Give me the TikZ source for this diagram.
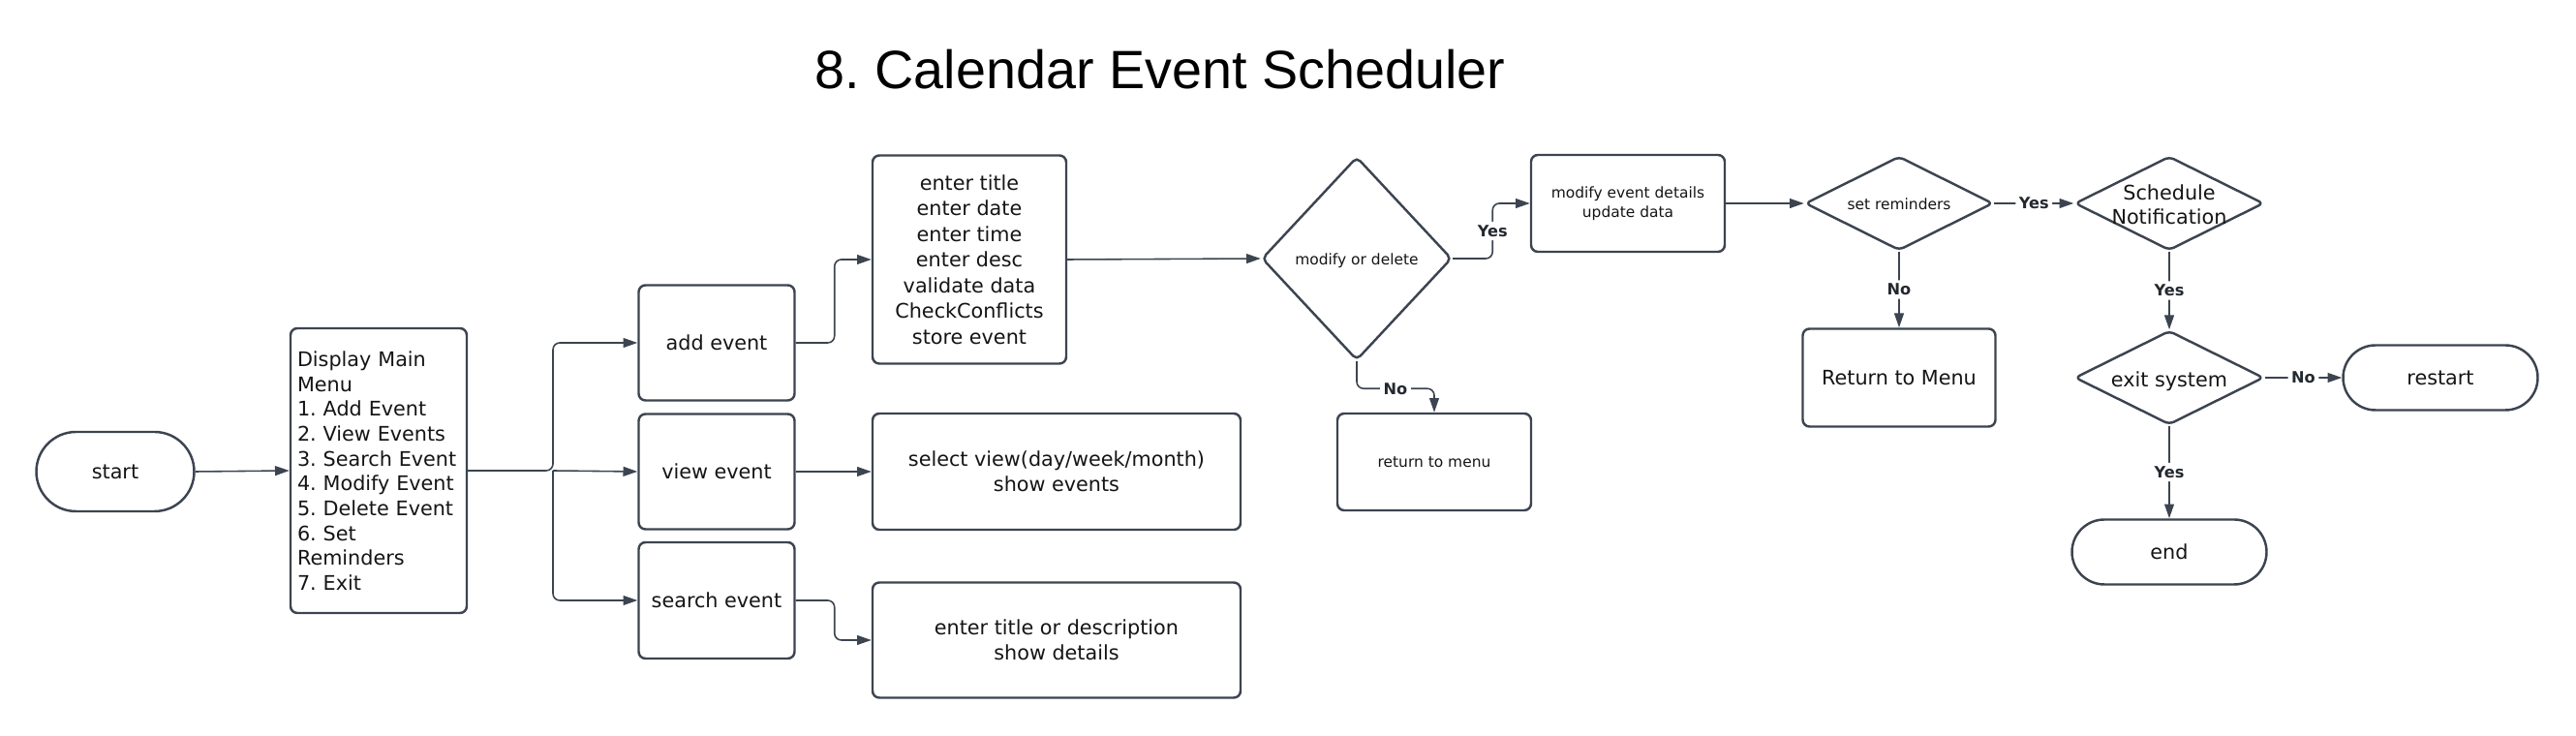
\documentclass[tikz,border=0pt]{standalone}
\usepackage{fontspec}
\setmainfont{DejaVu Sans}
\newfontfamily\titlefont{Liberation Sans}
\usetikzlibrary{shapes.geometric,shapes.misc,arrows.meta}
\definecolor{edge}{HTML}{3C4450}
\definecolor{ink}{HTML}{151515}
\frenchspacing
% text of a decision, kept from sizing the diamond
\newcommand{\dtext}[1]{\smash{\raisebox{-0.46em}{\makebox[0pt]{\begin{tabular}{@{}c@{}}#1\end{tabular}}}}}

\begin{document}
\begin{tikzpicture}[
	b/.style = {rectangle, draw=edge, line width=0.7pt, rounded corners=2pt, text=ink, align=center, inner sep=0pt, font=\fontsize{5.9}{7.55}\selectfont},
	sb/.style = {b, font=\fontsize{4.4}{5.7}\selectfont},
	term/.style = {rounded rectangle, draw=edge, line width=0.7pt, text=ink, inner sep=0pt, minimum width=2.01cm, minimum height=0.67cm, font=\fontsize{5.9}{7.55}\selectfont},
	d/.style = {diamond, draw=edge, line width=0.7pt, rounded corners=1.5pt, text=ink, inner sep=0pt, minimum width=1.95cm, minimum height=0.97cm, font=\fontsize{5.9}{7.1}\selectfont},
	r/.style = {-{Triangle[length=4.2pt,width=2.8pt]}, draw=edge, line width=0.45pt, rounded corners=2pt},
	lb/.style = {fill=white, text=edge!60!black, inner sep=1pt, font=\bfseries\fontsize{4.6}{5}\selectfont}
	]
	\useasboundingbox (0,0) rectangle (26.6,-7.6);
	
	%Title
	\node[anchor=base, font=\titlefont\fontsize{15.85}{18}\selectfont]	(title)	at	(11.98, -0.92)	{8. Calendar Event Scheduler};
	
	%Nodes
	\node[term, minimum width=1.63cm, minimum height=0.82cm]	(start)	at	(1.19, -4.87)	{start};
	\node[b, minimum width=1.82cm, minimum height=2.94cm, text width=1.68cm, align=left, font=\fontsize{5.9}{7.3}\selectfont]	(menu)	at	(3.91, -4.86)	{Display Main\\Menu\\1. Add Event\\2. View Events\\3. Search Event\\4. Modify Event\\5. Delete Event\\6. Set\\Reminders\\7. Exit};
	
	\node[b, minimum width=1.61cm, minimum height=1.19cm]	(add)	at	(7.40, -3.54)	{add event};
	\node[b, minimum width=1.61cm, minimum height=1.19cm]	(view)	at	(7.40, -4.87)	{view event};
	\node[b, minimum width=1.61cm, minimum height=1.20cm]	(search)	at	(7.40, -6.20)	{search event};
	
	\node[b, minimum width=2.00cm, minimum height=2.15cm]	(entry)	at	(10.01, -2.68)	{enter title\\enter date\\enter time\\enter desc\\validate data\\CheckConflicts\\store event};
	\node[b, minimum width=3.80cm, minimum height=1.20cm]	(show)	at	(10.91, -4.87)	{select view(day/week/month)\\show events};
	\node[b, minimum width=3.80cm, minimum height=1.19cm]	(find)	at	(10.91, -6.61)	{enter title or description\\show details};
	
	\node[d, minimum width=1.96cm, minimum height=2.10cm, font=\fontsize{4.4}{5.7}\selectfont]	(mod)	at	(14.01, -2.67)	{\dtext{modify or delete}};
	\node[sb, minimum width=2.00cm, minimum height=1.00cm]	(upd)	at	(16.81, -2.10)	{modify event details\\update data};
	\node[sb, minimum width=2.00cm, minimum height=1.00cm]	(back)	at	(14.81, -4.77)	{return to menu};
	
	\node[d, minimum width=1.94cm, font=\fontsize{4.4}{5.7}\selectfont]	(rem)	at	(19.61, -2.10)	{\dtext{set reminders}};
	\node[d]	(notif)	at	(22.40, -2.10)	{\dtext{Schedule\\Notification}};
	\node[b, minimum width=1.99cm, minimum height=1.01cm]	(menu2)	at	(19.61, -3.90)	{Return to Menu};
	\node[d]	(exit)	at	(22.40, -3.90)	{\dtext{exit system}};
	\node[term]	(restart)	at	(25.20, -3.90)	{restart};
	\node[term]	(end)	at	(22.40, -5.70)	{end};
	
	%Lines
	\draw[r]	(start.east)	to	(menu.west);
	\coordinate	(fork)	at	(5.71, -4.86);
	\draw[r]	(menu.east)	--	(fork)	|-	(add.west);
	\draw[r]	(fork)	--	(view.west);
	\draw[r]	(fork)	|-	(search.west);
	\draw[r]	(add.east)	--	++(0.40, 0)	|-	(entry.west);
	\draw[r]	(view.east)	to	(show.west);
	\draw[r]	(search.east)	--	++(0.40, 0)	|-	(find.west);
	\draw[r]	(entry.east)	to	(mod.west);
	\draw[r]	(mod.east)	--	++(0.41, 0)	|-	node[lb, pos=0.25]	{Yes}	(upd.west);
	\draw[r]	(mod.south)	--	++(0, -0.28)	-|	node[lb, pos=0.25]	{No}	(back.north);
	\draw[r]	(upd.east)	to	(rem.west);
	\draw[r]	(rem.east)	to	node[lb]	{Yes}	(notif.west);
	\draw[r]	(rem.south)	to	node[lb]	{No}	(menu2.north);
	\draw[r]	(notif.south)	to	node[lb]	{Yes}	(exit.north);
	\draw[r]	(exit.east)	to	node[lb]	{No}	(restart.west);
	\draw[r]	(exit.south)	to	node[lb]	{Yes}	(end.north);
\end{tikzpicture}
\end{document}
